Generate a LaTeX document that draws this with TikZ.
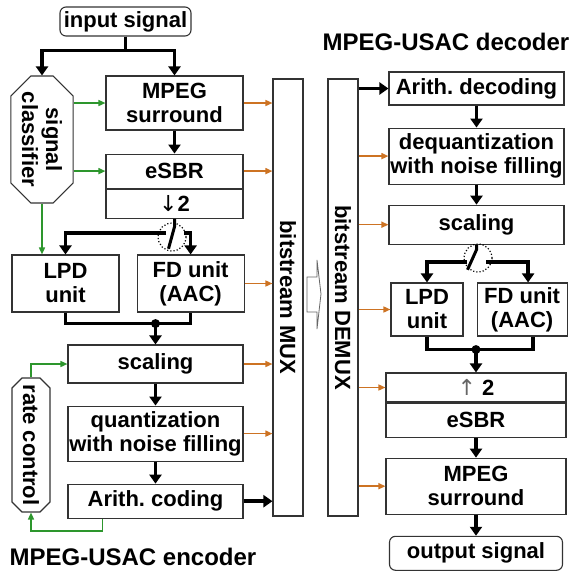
\documentclass[tikz,border=0pt]{standalone}
\usepackage{fontspec}
\setmainfont{Liberation Sans}
\newfontfamily\arrowfont{DejaVu Sans}
\usetikzlibrary{arrows.meta}
\usetikzlibrary{calc}
\usetikzlibrary{positioning}
\usetikzlibrary{shapes.misc}
\definecolor{sideinfo}{RGB}{205,115,35}
\definecolor{ctrlgreen}{RGB}{45,150,45}
\tikzset{>={Triangle[length=9pt,width=12pt]}}
\frenchspacing

\begin{document}
\begin{tikzpicture}[
        x=1pt, y=-1pt,
        node distance=22pt and 17pt,
        every node/.style={font=\fontsize{22}{24}\selectfont\bfseries,align=center,inner sep=1pt},
        block/.style={draw=black!80,line width=1.1pt,fill=white},
        terminal/.style={block,rounded corners=6pt},
        sidebox/.style={block,chamfered rectangle,rotate=-90},
        bus/.style={block,rotate=-90},
        switch/.style={circle,draw,dotted,line width=1.2pt,minimum size=28pt,inner sep=0pt},
        title/.style={font=\fontsize{24}{26}\selectfont\bfseries},
        flow/.style={line width=3.5pt,->},
        wire/.style={line width=3.5pt},
        ctrl/.style={ctrlgreen,line width=1.5pt,-{Triangle[length=7pt,width=6pt]}},
        side/.style={sideinfo,line width=1.5pt,-{Triangle[length=7pt,width=6pt]}}
    ]
    \useasboundingbox (0,0) rectangle (574,571);

    % encoder
    \node[terminal,minimum width=131pt,minimum height=29pt] (input) at (125.5,21.5) {input signal};
    \node[sidebox,chamfered rectangle xsep=10pt,chamfered rectangle ysep=10pt,
          minimum width=127pt,minimum height=60pt] (classif) at (42,139.5) {signal\\classifier};
    \node[block,minimum width=137pt,minimum height=54pt] (msurr) at (174.5,103) {MPEG\\surround};
    \node[block,minimum width=137pt,minimum height=34pt,below=23pt of msurr] (esbr) {eSBR};
    \node[block,minimum width=137pt,minimum height=29pt,below=0pt of esbr] (down) {{\arrowfont\mdseries ↓}2};
    \node[switch] (esw) at (172,237) {};
    \coordinate (esw-l) at (166,233);
    \coordinate (esw-r) at (184,233);
    \node[block,minimum width=107pt,minimum height=57pt] (lpd) at (65.5,283.5) {LPD\\unit};
    \node[block,minimum width=107pt,minimum height=57pt,right=17pt of lpd] (fd) {FD unit\\(AAC)};
    \node[block,minimum width=175pt,minimum height=38pt] (scal) at (155.5,364) {scaling};
    \node[block,minimum width=175pt,minimum height=55pt,below=22pt of scal] (quant) {quantization\\with noise filling};
    \node[block,minimum width=175pt,minimum height=34pt,below=22pt of quant] (arith) {Arith. coding};
    \node[sidebox,chamfered rectangle xsep=5pt,chamfered rectangle ysep=5pt,
          minimum width=134pt,minimum height=38pt] (rate) at (31,445) {rate control};
    \node[bus,minimum width=437pt,minimum height=30pt] (mux) at (288,297.5) {bitstream MUX};
    \node[title] (enctitle) at (133,557) {MPEG-USAC encoder};

    \draw[flow] (input.south) -- ++(0,14) -| (classif.west);
    \draw[flow] (input.south) -- ++(0,14) -| (msurr.north);
    \draw[flow] (msurr.south) -- (esbr.north);
    \draw[wire,line width=3pt] (down.south) -- ++(0,8) -- ++(-6,22);
    \draw[flow] (esw-l) -| (lpd.north);
    \draw[flow] (esw-r) -| (fd.north);
    \path (scal.north |- lpd.south) ++(0,11) coordinate (emerge);
    \draw[wire] (lpd.south) -- ++(0,11) -| (fd.south);
    \fill (emerge) circle (4.5pt);
    \draw[flow] (emerge) -- (scal.north);
    \draw[flow] (scal.south) -- (quant.north);
    \draw[flow] (quant.south) -- (arith.north);
    \draw[flow] (arith.east) -- (arith.east -| mux.south);

    \draw[ctrl] (classif.north |- msurr.west) -- (msurr.west);
    \draw[ctrl] (classif.north |- esbr.west) -- (esbr.west);
    \draw[ctrl] (classif.east) -- (classif.east |- lpd.north);
    \draw[ctrl] (rate.west) |- (scal.west);
    \draw[ctrl] ([xshift=-53pt]arith.south) -- ++(0,12) -| (rate.east);

    \foreach \n in {msurr,esbr,fd,scal,quant}
        \draw[side] (\n.east) -- (\n.east -| mux.south);

    % transmission
    \draw[black!60,line width=0.8pt] (307,277) -- (317,277) -- (317,260) -- (321,294)
        -- (317,329) -- (317,312) -- (307,312) -- cycle;

    % decoder
    \node[bus,minimum width=437pt,minimum height=30pt] (demux) at (343,297.5) {bitstream DEMUX};
    \node[title] (dectitle) at (446,42) {MPEG-USAC decoder};
    \node[block,minimum width=175pt,minimum height=33pt] (adec) at (476.5,88.5) {Arith. decoding};
    \node[block,minimum width=175pt,minimum height=56pt,below=22pt of adec] (deq) {dequantization\\with noise filling};
    \node[block,minimum width=175pt,minimum height=39pt,below=20pt of deq] (dscal) {scaling};
    \node[switch] (dsw) at (478,258) {};
    \coordinate (dsw-l) at (467,262);
    \coordinate (dsw-r) at (486,262);
    \node[block,minimum width=72pt,minimum height=53pt] (dlpd) at (427,309.5) {LPD\\unit};
    \node[block,minimum width=90pt,minimum height=53pt,right=13pt of dlpd] (dfd) {FD unit\\(AAC)};
    \node[block,minimum width=180pt,minimum height=29pt] (up) at (476,387.5) {{\arrowfont\mdseries\color{black!60}↑} 2};
    \node[block,minimum width=180pt,minimum height=34pt,below=0pt of up] (desbr) {eSBR};
    \node[block,minimum width=180pt,minimum height=56pt,below=20pt of desbr] (dmsurr) {MPEG\\surround};
    \node[terminal,minimum width=173pt,minimum height=34pt,below=21pt of dmsurr] (output) {output signal};

    \draw[flow] (adec.west -| demux.north) -- (adec.west);
    \draw[flow] (adec.south) -- (deq.north);
    \draw[flow] (deq.south) -- (dscal.north);
    \draw[wire,line width=3pt] (dscal.south) -- ++(0,5) -- ++(-9,20);
    \draw[flow] (dsw-l) -| (dlpd.north);
    \draw[flow] (dsw-r) -| ([xshift=6pt]dfd.north);
    \path (up.north |- dlpd.south) ++(0,13) coordinate (dmerge);
    \draw[wire] (dlpd.south) -- ++(0,13) -| ([xshift=11pt]dfd.south);
    \fill (dmerge) circle (4.5pt);
    \draw[flow] (dmerge) -- (up.north);
    \draw[flow] (desbr.south) -- (dmsurr.north);
    \draw[flow] (dmsurr.south) -- (output.north);

    \foreach \n in {deq,dscal,dlpd,up,dmsurr}
        \draw[side] (\n.west -| demux.north) -- (\n.west);
\end{tikzpicture}
\end{document}
